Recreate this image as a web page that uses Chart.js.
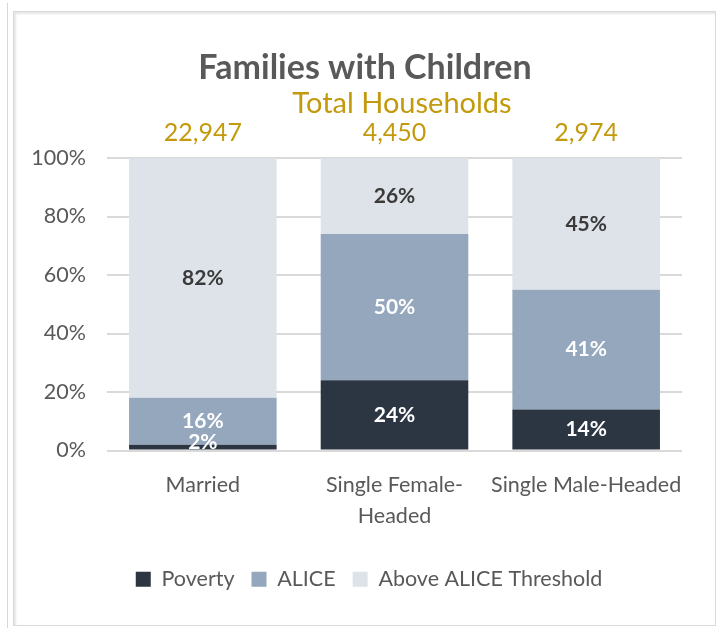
<!DOCTYPE html>
<html>
<head>
<meta charset="utf-8">
<script src="https://cdn.jsdelivr.net/npm/chart.js@4.4.1/dist/chart.umd.min.js"></script>
<style>
  html, body { margin: 0; padding: 0; background: #fff; }
  body { width: 717px; height: 628px; position: relative; overflow: hidden; }
  #edge { position: absolute; left: 7px; top: 3px; width: 1px; height: 625px; background: #d6d6d6; }
  #box {
    position: absolute; left: 13px; top: 11px; width: 701px; height: 613px;
    border: 1px solid #d9d9d9; box-shadow: inset 2px 2px 2px #e6e6e6;
  }
  canvas { display: block; }
</style>
</head>
<body>
<div id="edge"></div>
<div id="box"><canvas id="chart" width="701" height="613"></canvas></div>
<script>
const categories = ['Married', ['Single Female-', 'Headed'], 'Single Male-Headed'];
const totals = ['22,947', '4,450', '2,974'];
const poverty = [2, 24, 14];
const alice = [16, 50, 41];
const above = [82, 26, 45];
const yTicks = [0, 20, 40, 60, 80, 100];

const FONT = 'Lato, "Open Sans", sans-serif';
const GOLD = '#c39a0e';
const GRAY = '#595959';

// data labels + title block drawn by hand
const labelsPlugin = {
  id: 'segLabels',
  afterLayout(chart) {
    // legend sits a bit right of the canvas centre
    chart.legend.left += 21;
    chart.legend.right += 21;
  },
  afterDatasetsDraw(chart) {
    const ctx = chart.ctx;
    ctx.save();
    ctx.textAlign = 'center';
    ctx.textBaseline = 'middle';
    ctx.font = 'bold 21px ' + FONT;
    chart.data.datasets.forEach((ds, di) => {
      const meta = chart.getDatasetMeta(di);
      meta.data.forEach((bar, i) => {
        const v = ds.data[i];
        let mid = (bar.y + bar.base) / 2;
        if (v < 5) mid -= 5;
        ctx.fillStyle = di === 2 ? '#3a3a3a' : '#ffffff';
        ctx.fillText(v + '%', bar.x, mid);
      });
    });
    ctx.restore();
  },
  afterDraw(chart) {
    const ctx = chart.ctx;
    ctx.save();
    ctx.textAlign = 'center';
    ctx.textBaseline = 'middle';
    ctx.fillStyle = GRAY;
    ctx.font = 'bold 34px ' + FONT;
    ctx.fillText('Families with Children', 351, 56);
    ctx.fillStyle = GOLD;
    ctx.font = '29px ' + FONT;
    ctx.fillText('Total Households', 388, 92);
    ctx.font = '25px ' + FONT;
    const xs = chart.scales.x;
    totals.forEach((t, i) => {
      ctx.fillText(t, xs.getPixelForValue(i), 121);
    });
    ctx.restore();
  }
};

new Chart(document.getElementById('chart'), {
  type: 'bar',
  data: {
    labels: categories,
    datasets: [
      { label: 'Poverty', data: poverty, backgroundColor: '#2c3643' },
      { label: 'ALICE', data: alice, backgroundColor: '#94a7bd' },
      { label: 'Above ALICE Threshold', data: above, backgroundColor: '#dee3ea' }
    ]
  },
  options: {
    responsive: false,
    animation: false,
    layout: { padding: { top: 146, right: 33, bottom: 25, left: 0 } },
    datasets: { bar: { categoryPercentage: 1, barPercentage: 0.77 } },
    scales: {
      x: {
        stacked: true,
        grid: { display: false, drawTicks: false },
        border: { display: false },
        ticks: {
          padding: 20,
          autoSkip: false,
          maxRotation: 0,
          minRotation: 0,
          color: GRAY,
          font: { family: FONT, size: 21.5, lineHeight: 1.4 }
        },
        afterFit(s) { s.height = 101; }
      },
      y: {
        stacked: true,
        min: 0, max: 100,
        afterBuildTicks(s) { s.ticks = yTicks.map(v => ({ value: v })); },
        grid: { color: '#d9d9d9', lineWidth: 2, drawTicks: false },
        border: { display: false },
        ticks: {
          padding: 21,
          color: GRAY,
          font: { family: FONT, size: 21.5 },
          callback: v => v + '%'
        },
        afterFit(s) { s.width = 93; }
      }
    },
    plugins: {
      title: { display: false },
      tooltip: { enabled: false },
      legend: {
        position: 'bottom',
        labels: {
          boxWidth: 15, boxHeight: 15, padding: 17,
          color: GRAY,
          font: { family: FONT, size: 21.5 }
        }
      }
    }
  },
  plugins: [labelsPlugin]
});
</script>
</body>
</html>
